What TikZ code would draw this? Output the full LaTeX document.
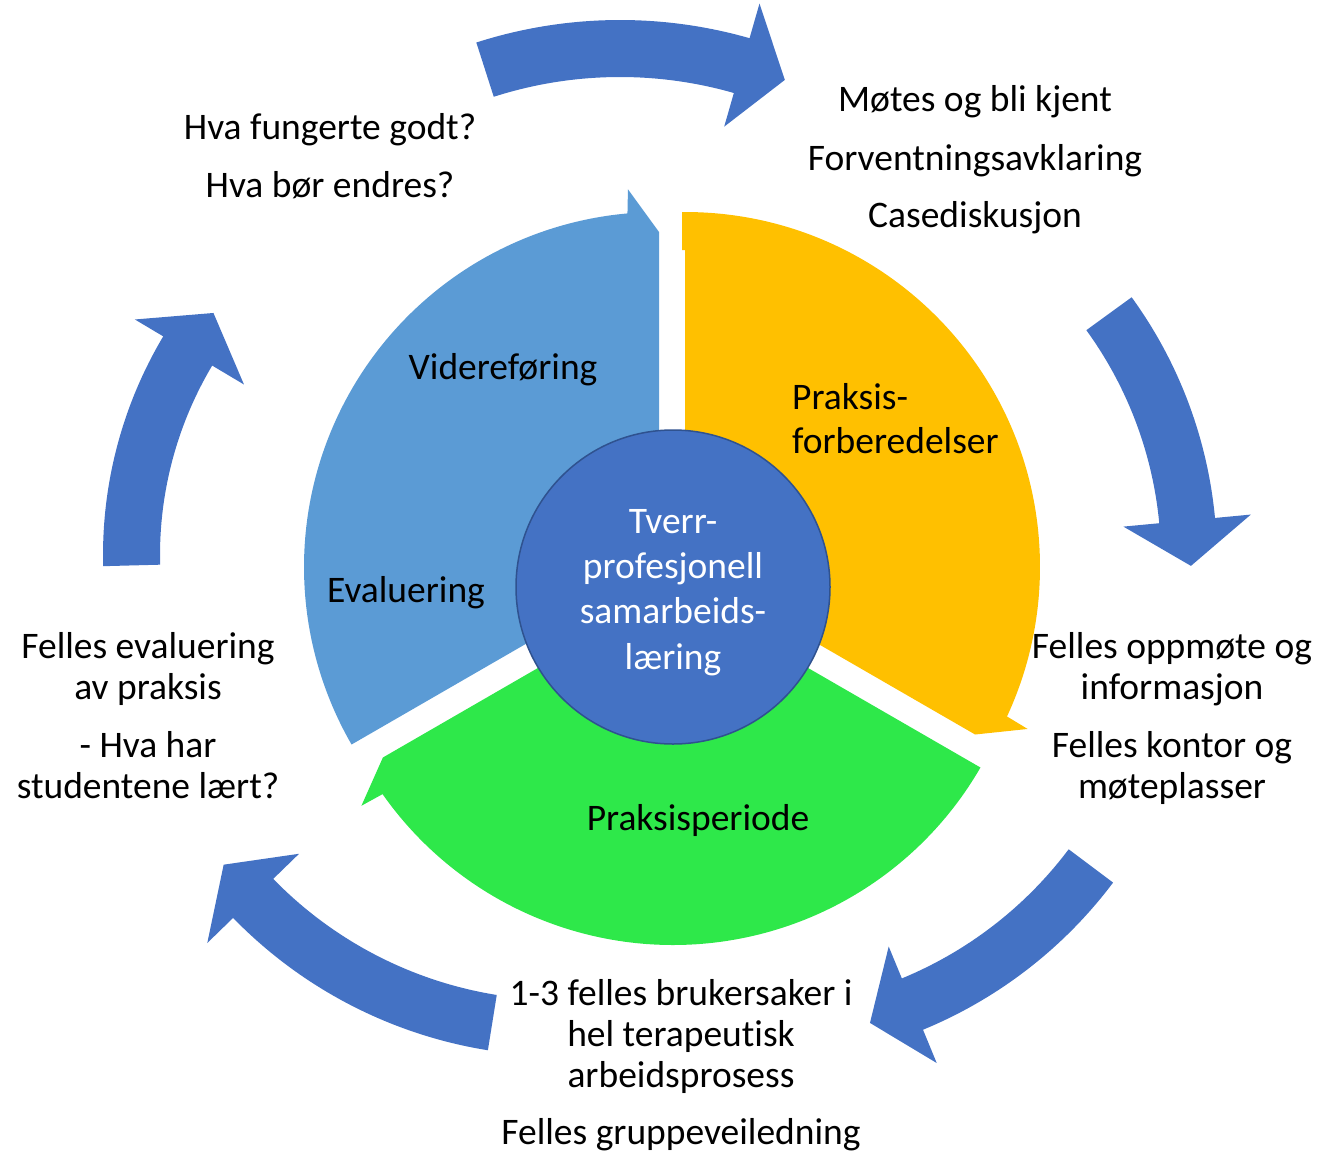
\documentclass[tikz,border=0pt]{standalone}
\usepackage{fontspec}
\setmainfont{Carlito}[Ligatures=NoCommon]
\definecolor{segblue}{HTML}{5B9BD5}
\definecolor{segyellow}{HTML}{FFC000}
\definecolor{seggreen}{HTML}{2EE84A}
\definecolor{arrblue}{HTML}{4472C4}
\definecolor{hubedge}{HTML}{2F528F}
% #1 centre name, #2 inner r, #3 outer r, #4 tail angle, #5 head base angle,
% #6 tip angle, #7 inner barb r, #8 outer barb r, #9 tip r
\newcommand\cycarrow[9]{%
  \fill[arrblue] ([shift={(#4:#3)}]#1) arc[start angle=#4, end angle=#5, radius=#3]
    -- ([shift={(#5:#8)}]#1) -- ([shift={(#6:#9)}]#1) -- ([shift={(#5:#7)}]#1)
    -- ([shift={(#5:#2)}]#1) arc[start angle=#5, end angle=#4, radius=#2] -- cycle;}
\tikzset{
  lbl/.style={inner sep=0pt, anchor=base, font=\fontsize{37.5}{41}\selectfont},
  lblw/.style={lbl, text=white},
}
\begin{document}
\begin{tikzpicture}[x=1pt, y=1pt]
\useasboundingbox (0,-1151) rectangle (1319,0);

% ---------- outer cycle arrows ----------
\coordinate (ctop) at (620,-490);
\coordinate (cright) at (770,-560);
\coordinate (cbr) at (750,-610);
\coordinate (cbl) at (560,-600);
\coordinate (cleft) at (530,-555);
\cycarrow{ctop}{413}{470}{107.8}{74}{68.1}{378}{506}{442}
\cycarrow{cright}{391}{447}{36}{5.4}{-0.8}{355}{483}{421}
\cycarrow{cbr}{398.5}{454}{-36.9}{-67.6}{-73.8}{364}{490}{430}
\cycarrow{cbl}{400}{456}{260.9}{224.2}{218.2}{364}{492}{428}
\cycarrow{cleft}{370}{427}{181.5}{149.2}{142.6}{333}{460}{398.5}

% ---------- segments ----------
\coordinate (cb) at (659,-567);
\coordinate (cy) at (685,-567);
\coordinate (cg) at (673,-590);
\fill[segblue] (cb) -- ([shift={(210:355)}]cb) arc[start angle=210, end angle=95.1, radius=355]
   -- ([shift={(94.7:379)}]cb) -- ([shift={(90:335)}]cb) -- cycle;
\fill[segyellow] (cy) -- ++(0,317) -- ++(-3,0) -- ([shift={(90.48:355)}]cy)
   arc[start angle=90.48, end angle=-24.9, radius=355]
   -- ([shift={(-25.3:379)}]cy) -- ([shift={(-30:335)}]cy) -- cycle;
\fill[seggreen] (cg) -- ([shift={(-30:355)}]cg) arc[start angle=-30, end angle=-144.9, radius=355]
   -- ([shift={(-145.3:379)}]cg) -- ([shift={(-150:335)}]cg) -- cycle;

% ---------- hub ----------
\node[circle, fill=arrblue, draw=hubedge, line width=1.5pt, minimum size=314pt, inner sep=0pt] (hub) at (673,-587) {};
\node[lblw] (h1) at (673,-533) {Tverr-};
\node[lblw] (h2) at (673,-578) {profesjonell};
\node[lblw] (h3) at (673,-623) {samarbeids-};
\node[lblw] (h4) at (673,-669) {læring};

% ---------- segment labels ----------
\node[lbl] (sv) at (503,-379) {Videreføring};
\node[lbl] (se) at (406,-602) {Evaluering};
\node[lbl, anchor=base west] (sp1) at (792,-409) {Praksis-};
\node[lbl, anchor=base west] (sp2) at (792,-453) {forberedelser};
\node[lbl] (spp) at (698,-830) {Praksisperiode};

% ---------- outer texts ----------
\node[lbl] (t1) at (975,-111) {Møtes og bli kjent};
\node[lbl] (t2) at (975,-170) {Forventningsavklaring};
\node[lbl] (t3) at (975,-227) {Casediskusjon};

\node[lbl] (q1) at (330,-139) {Hva fungerte godt?};
\node[lbl] (q2) at (330,-197) {Hva bør endres?};

\node[lbl] (l1) at (148,-658) {Felles evaluering};
\node[lbl] (l2) at (148,-699) {av praksis};
\node[lbl] (l3) at (148,-757) {- Hva har};
\node[lbl] (l4) at (148,-798) {studentene lært?};

\node[lbl] (r1) at (1172,-658) {Felles oppmøte og};
\node[lbl] (r2) at (1172,-699) {informasjon};
\node[lbl] (r3) at (1172,-757) {Felles kontor og};
\node[lbl] (r4) at (1172,-798) {møteplasser};

\node[lbl] (b1) at (681,-1005) {1-3 felles brukersaker i};
\node[lbl] (b2) at (681,-1046) {hel terapeutisk};
\node[lbl] (b3) at (681,-1087) {arbeidsprosess};
\node[lbl] (b4) at (681,-1144) {Felles gruppeveiledning};
\end{tikzpicture}
\end{document}
